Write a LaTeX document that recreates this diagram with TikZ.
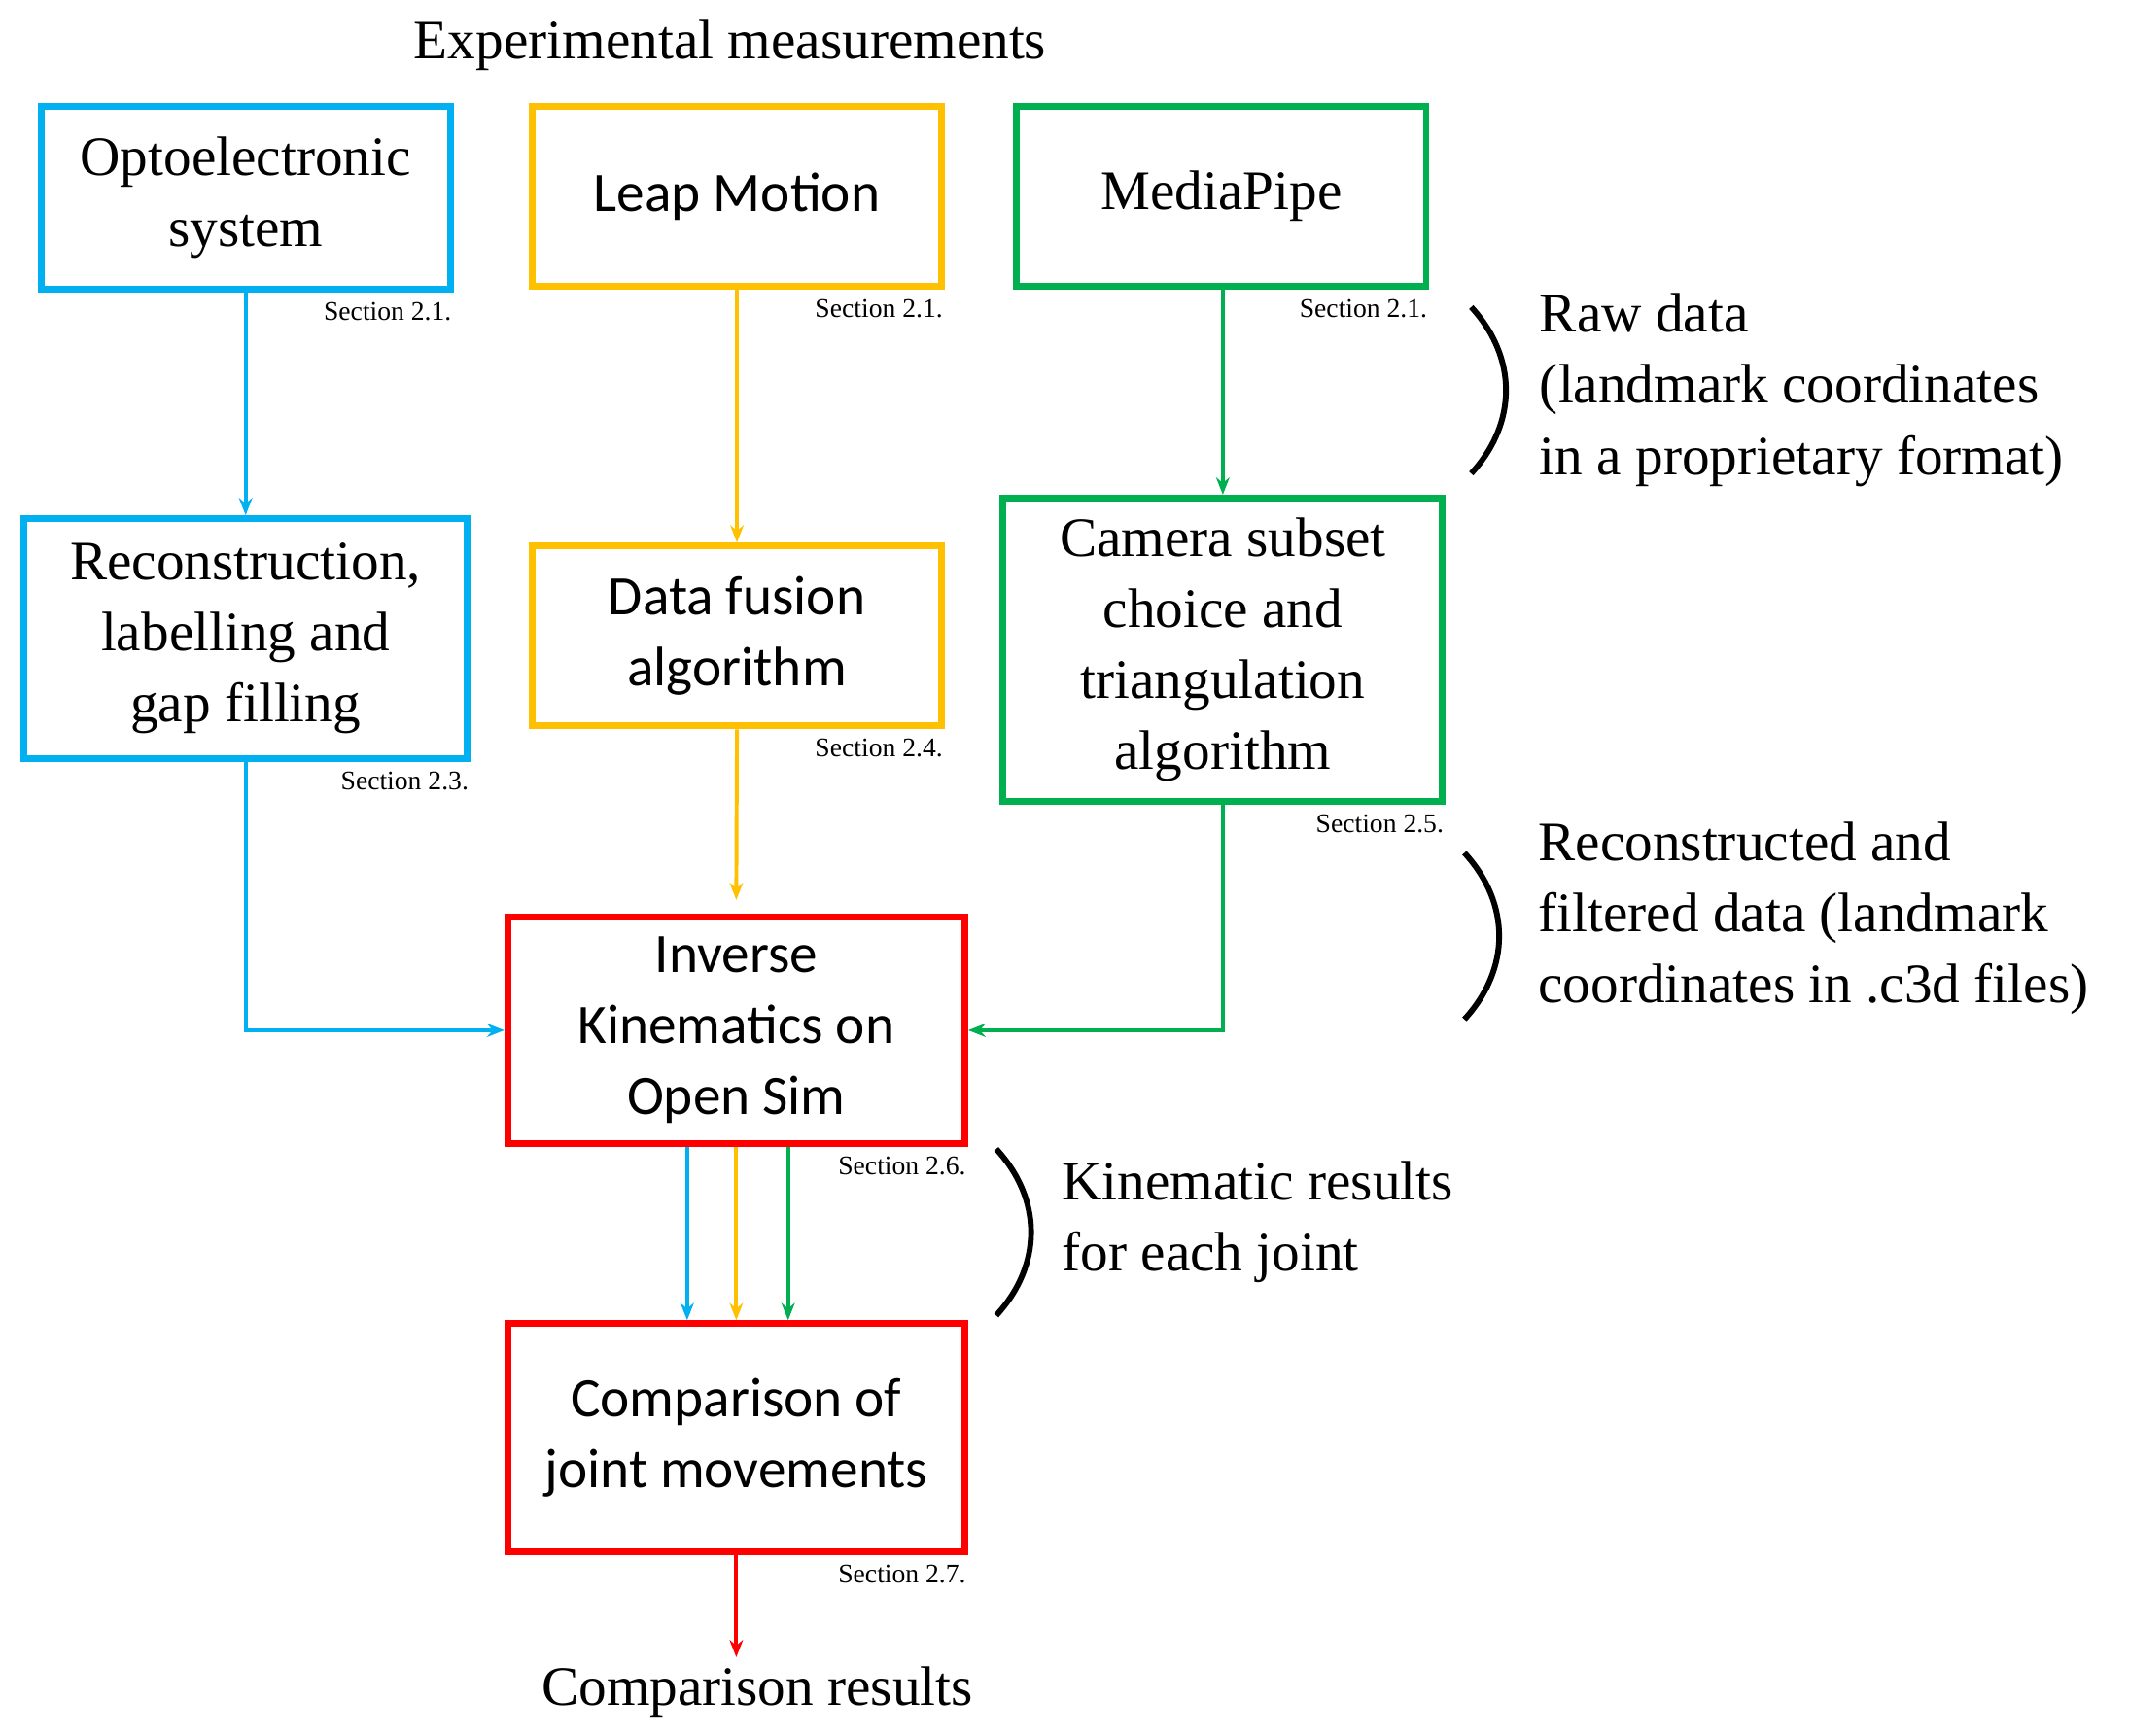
\documentclass[tikz,border=0pt]{standalone}
\usepackage{fontspec}
\setmainfont{Liberation Serif}
\newfontfamily\carl{Carlito}
\usetikzlibrary{arrows.meta}
\definecolor{cb}{RGB}{0,176,240}
\definecolor{co}{RGB}{255,192,0}
\definecolor{cg}{RGB}{0,176,80}
\definecolor{cr}{RGB}{255,0,0}
\begin{document}
\begin{tikzpicture}[x=0.025cm,y=-0.025cm,
  box/.style={draw,line width=3.5pt,align=center,inner sep=0pt},
  big/.style={font=\fontsize{29}{37}\selectfont},
  sbig/.style={font=\carl\fontsize{29}{37}\selectfont},
  sec/.style={font=\fontsize{14}{16}\selectfont,anchor=north east,inner sep=1pt},
  arr/.style={line width=2pt,-{Stealth[length=9pt,width=7pt]}},
  brk/.style={line width=3pt},
  side/.style={font=\fontsize{29}{37}\selectfont,align=left,anchor=north west,inner sep=0pt}]
\useasboundingbox (0,0) rectangle (1560,1272);
\node[big] (title) at (535,33) {Experimental measurements};
\node[box,big,cb,text=black,minimum width=300*0.025cm,minimum height=134*0.025cm] (opto) at (180,145) {Optoelectronic\\system};
\node[box,sbig,co,text=black,minimum width=300*0.025cm,minimum height=132*0.025cm] (leap) at (540,144) {Leap Motion};
\node[box,big,cg,text=black,minimum width=300*0.025cm,minimum height=132*0.025cm] (mp) at (895,144) {MediaPipe};
\node[box,big,cb,text=black,minimum width=325*0.025cm,minimum height=176*0.025cm] (rec) at (180,468) {Reconstruction,\\labelling and\\gap filling};
\node[box,sbig,co,text=black,minimum width=300*0.025cm,minimum height=132*0.025cm] (df) at (540,466) {Data fusion\\algorithm};
\node[box,big,cg,text=black,minimum width=322*0.025cm,minimum height=222*0.025cm] (cam) at (896,476) {Camera subset\\choice and\\triangulation\\algorithm};
\node[box,sbig,cr,text=black,minimum width=335*0.025cm,minimum height=166*0.025cm] (ik) at (539.5,755) {Inverse\\Kinematics on\\Open Sim};
\node[box,sbig,cr,text=black,minimum width=335*0.025cm,minimum height=167*0.025cm] (cmp) at (539.5,1053.5) {Comparison of\\joint movements};
\node[big] (res) at (555,1240) {Comparison results};
\node[sec] (s1) at ([yshift=-4pt]opto.south east) {Section 2.1.};
\node[sec] (s2) at ([yshift=-4pt]leap.south east) {Section 2.1.};
\node[sec] (s3) at ([yshift=-4pt]mp.south east) {Section 2.1.};
\node[sec] (s4) at ([yshift=-4pt]rec.south east) {Section 2.3.};
\node[sec] (s5) at ([yshift=-4pt]df.south east) {Section 2.4.};
\node[sec] (s6) at ([yshift=-4pt]cam.south east) {Section 2.5.};
\node[sec] (s7) at ([yshift=-4pt]ik.south east) {Section 2.6.};
\node[sec] (s8) at ([yshift=-4pt]cmp.south east) {Section 2.7.};
\draw[arr,cb] (opto.south) -- (rec.north);
\draw[arr,co] (leap.south) -- (df.north);
\draw[arr,cg] (mp.south -| cam.north) -- (cam.north);
\draw[arr,cb] (rec.south) |- (ik.west);
\draw[arr,co] (df.south) -- ([yshift=10*0.025cm]ik.north);
\draw[arr,cg] (cam.south) |- (ik.east);
\draw[arr,cb] (ik.south) ++(-36,0) coordinate (a1) -- (a1 |- cmp.north);
\draw[arr,co] (ik.south) -- (cmp.north);
\draw[arr,cg] (ik.south) ++(38,0) coordinate (a3) -- (a3 |- cmp.north);
\draw[arr,cr] (cmp.south) -- ([yshift=-75*0.025cm]cmp.south) coordinate (re);
\draw[brk] (1078,225) .. controls (1112,262) and (1112,310) .. (1078,347);
\draw[brk] (1073,625) .. controls (1107,662) and (1107,710) .. (1073,747);
\draw[brk] (730,842) .. controls (764,879) and (764,927) .. (730,964);
\node[side] (t1) at (1128,215) {Raw data\\(landmark coordinates\\in a proprietary format)};
\node[side] (t2) at (1127,602) {Reconstructed and\\filtered data (landmark\\coordinates in .c3d files)};
\node[side] (t3) at (778,851) {Kinematic results\\for each joint};
\end{tikzpicture}
\end{document}
